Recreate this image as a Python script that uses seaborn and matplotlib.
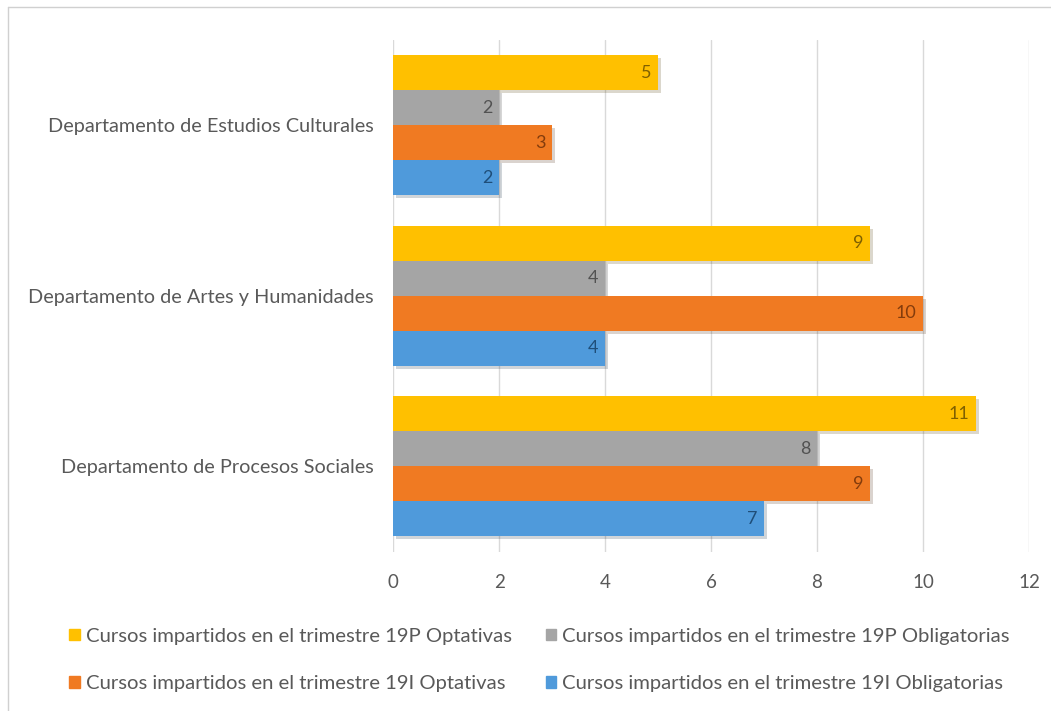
import pandas as pd
import matplotlib
matplotlib.use("Agg")
import matplotlib.pyplot as plt
import matplotlib.patheffects as pe
from matplotlib.lines import Line2D
import seaborn as sns

# datos del gráfico
departamentos = [
    "Departamento de Estudios Culturales",
    "Departamento de Artes y Humanidades",
    "Departamento de Procesos Sociales",
]
series = [
    "Cursos impartidos en el trimestre 19P Optativas",
    "Cursos impartidos en el trimestre 19P Obligatorias",
    "Cursos impartidos en el trimestre 19I Optativas",
    "Cursos impartidos en el trimestre 19I Obligatorias",
]
p19_optativas = [5, 9, 11]
p19_obligatorias = [2, 4, 8]
i19_optativas = [3, 10, 9]
i19_obligatorias = [2, 4, 7]
x_ticks = [0, 2, 4, 6, 8, 10, 12]

colores = ["#FFC000", "#A5A5A5", "#F07A22", "#4F9ADB"]
colores_texto = ["#7F6000", "#525252", "#843C0C", "#1F4E79"]

rows = []
for s, vals in zip(series, [p19_optativas, p19_obligatorias, i19_optativas, i19_obligatorias]):
    for d, v in zip(departamentos, vals):
        rows.append({"Departamento": d, "Serie": s, "Cursos": v})
df = pd.DataFrame(rows)

sns.set_theme(style="white")
plt.rcParams["font.family"] = ["Lato", "DejaVu Sans"]

fig = plt.figure(figsize=(10.51, 7.11), dpi=100)
ax = fig.add_axes([0.374, 0.224, 0.605, 0.720])

sns.barplot(data=df, y="Departamento", x="Cursos", hue="Serie",
            order=departamentos, hue_order=series, palette=colores,
            orient="h", width=0.82, saturation=1, linewidth=0,
            ax=ax, legend=False)

# sombra ligera como en el original
for p in ax.patches:
    p.set_path_effects([pe.withSimplePatchShadow(offset=(2, -2), alpha=0.2), pe.Normal()])

# etiquetas de datos dentro del extremo de la barra
for cont, ct in zip(ax.containers, colores_texto):
    for p in cont:
        w = p.get_width()
        yc = p.get_y() + p.get_height() / 2
        ax.text(w - 0.12, yc, f"{w:g}", ha="right", va="center",
                fontsize=13, color=ct)

ax.set_xlim(0, 12)
ax.set_xticks(x_ticks)
ax.xaxis.grid(True, color="#D9D9D9", linewidth=1)
ax.set_axisbelow(True)
for s in ax.spines.values():
    s.set_visible(False)
ax.set_xlabel("")
ax.set_ylabel("")
ax.tick_params(axis="x", length=0, pad=16, labelsize=13.5, labelcolor="#595959")
ax.tick_params(axis="y", length=0, pad=14, labelsize=14.3, labelcolor="#595959")

# leyenda en dos columnas (orden por filas)
handles = [plt.Rectangle((0, 0), 1, 1, color=c) for c in colores]
orden = [0, 2, 1, 3]
fig.legend([handles[i] for i in orden], [series[i] for i in orden],
           loc="upper left", bbox_to_anchor=(0.066, 0.117), ncol=2,
           frameon=False, handlelength=0.5, handleheight=0.5, handletextpad=0.3,
           columnspacing=1.7, labelspacing=1.5, fontsize=14.6, labelcolor="#595959",
           borderaxespad=0, borderpad=0)

# borde del marco exterior
fig.add_artist(Line2D([8 / 1051, 1], [1 - 7 / 711, 1 - 7 / 711], color="#D0D0D0", lw=1))
fig.add_artist(Line2D([8 / 1051, 8 / 1051], [0, 1 - 7 / 711], color="#D0D0D0", lw=1))

fig.savefig("out.png", dpi=100)
